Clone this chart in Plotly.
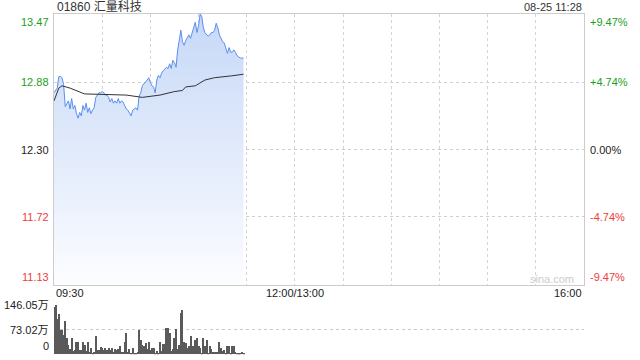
import plotly.graph_objects as go

# ---------------- data ----------------
stock_title = "01860 汇量科技"
timestamp = "08-25 11:28"
prev_close = 12.30
price_ticks = [13.47, 12.88, 12.30, 11.72, 11.13]
pct_ticks = ["+9.47%", "+4.74%", "0.00%", "-4.74%", "-9.47%"]
vol_ticks = [146.05, 73.02, 0]
vol_tick_text = ["146.05万", "73.02万", "0"]
x_labels = ["09:30", "12:00/13:00", "16:00"]
x_label_minutes = [0, 150, 330]
session_minutes = 330

prices = [12.79, 12.81, 12.83, 12.93, 12.93, 12.92, 12.86, 12.67, 12.70, 12.72,
          12.65, 12.74, 12.65, 12.68, 12.61, 12.57, 12.62, 12.59, 12.68, 12.64,
          12.70, 12.62, 12.66, 12.61, 12.64, 12.66, 12.75, 12.77, 12.79, 12.79,
          12.80, 12.79, 12.77, 12.77, 12.75, 12.71, 12.74, 12.70, 12.72, 12.70,
          12.74, 12.70, 12.72, 12.71, 12.68, 12.65, 12.64, 12.61, 12.59, 12.64,
          12.65, 12.66, 12.64, 12.76, 12.79, 12.85, 12.87, 12.88, 12.90, 12.92,
          12.88, 12.85, 12.84, 12.79, 12.90, 12.94, 12.92, 12.96, 12.98, 13.00,
          13.01, 13.00, 13.04, 13.00, 13.07, 13.05, 13.01, 13.16, 13.24, 13.33,
          13.23, 13.20, 13.24, 13.26, 13.29, 13.26, 13.31, 13.35, 13.40, 13.31,
          13.37, 13.47, 13.45, 13.35, 13.31, 13.29, 13.28, 13.29, 13.31, 13.31,
          13.33, 13.39, 13.35, 13.29, 13.26, 13.23, 13.22, 13.18, 13.13, 13.18,
          13.14, 13.14, 13.16, 13.14, 13.11, 13.10, 13.09, 13.09, 13.09]

avg_minutes = [0, 1, 3, 5, 10, 19, 35, 45, 55, 66, 75, 80, 82, 88, 94, 100, 110, 118]
avg_prices = [12.72, 12.76, 12.83, 12.85, 12.83, 12.78, 12.77, 12.77, 12.75, 12.77,
              12.80, 12.81, 12.84, 12.85, 12.90, 12.92, 12.935, 12.95]

volumes = [141, 146, 104, 119, 72, 72, 57, 99, 47, 28,
           15, 47, 11, 13, 36, 36, 13, 13, 36, 28,
           10, 35, 8, 18, 3, 8, 54, 13, 13, 21,
           18, 13, 18, 13, 20, 13, 18, 8, 16, 13,
           15, 24, 8, 8, 37, 62, 8, 16, 5, 18,
           3, 5, 8, 72, 41, 28, 24, 33, 15, 36,
           12, 20, 18, 5, 11, 3, 36, 11, 31, 31,
           77, 77, 62, 11, 16, 47, 76, 16, 28, 123,
           131, 36, 33, 18, 24, 54, 24, 24, 43, 48,
           24, 18, 5, 48, 26, 41, 5, 24, 15, 8,
           8, 8, 8, 36, 18, 11, 13, 5, 25, 25,
           5, 24, 24, 8, 3, 5, 3, 6, 3]

minutes = list(range(len(prices)))
vol_minutes = list(range(len(volumes)))

# ---------------- style ----------------
FONT = "Liberation Sans, Arial, Noto Sans CJK SC, sans-serif"
GREEN = "#1aa01a"
RED = "#f03c3c"
BLACK = "#222222"
label_colors = [GREEN, GREEN, BLACK, RED, RED]

W, H = 640, 360
left_px, right_px = 54, 584
p_top, p_bot = 14, 285
v_top, v_bot = 305, 354.3

def px_x(p):
    return p / W

def px_y(p):
    return 1 - p / H

fig = go.Figure()

fig.add_trace(go.Scatter(
    x=minutes, y=prices, mode="lines",
    line=dict(color="#5a8ef0", width=1),
    fill="tozeroy",
    fillgradient=dict(type="vertical", start=price_ticks[-1], stop=price_ticks[0],
                      colorscale=[[0, "rgba(252,253,255,1)"], [1, "rgba(198,216,247,1)"]]),
    xaxis="x", yaxis="y", hoverinfo="skip", showlegend=False))

fig.add_trace(go.Scatter(
    x=avg_minutes, y=avg_prices, mode="lines",
    line=dict(color="#333333", width=1),
    xaxis="x", yaxis="y", hoverinfo="skip", showlegend=False))

fig.add_trace(go.Bar(
    x=vol_minutes, y=volumes, marker=dict(color="#5a5a5a", line=dict(width=0)),
    width=0.62, xaxis="x2", yaxis="y2", hoverinfo="skip", showlegend=False))

grid_minutes = list(range(0, session_minutes + 1, 30))

fig.update_layout(
    width=W, height=H,
    margin=dict(l=0, r=0, t=0, b=0),
    paper_bgcolor="white", plot_bgcolor="rgba(0,0,0,0)",
    font=dict(family=FONT, size=11, color=BLACK),
    bargap=0,
    xaxis=dict(domain=[px_x(left_px), px_x(right_px)], range=[0, session_minutes],
               tickvals=grid_minutes, showticklabels=False, ticks="",
               showgrid=True, gridcolor="#d4d4d4", griddash="dot", gridwidth=1,
               showline=True, linecolor="#cccccc", mirror=True, zeroline=False,
               anchor="y"),
    yaxis=dict(domain=[px_y(p_bot), px_y(p_top)],
               range=[price_ticks[-1], price_ticks[0]],
               tickvals=price_ticks[1:-1], showticklabels=False, ticks="",
               showgrid=True, gridcolor="#cfcfcf", griddash="dot", gridwidth=1,
               showline=True, linecolor="#cccccc", mirror=True, zeroline=False,
               anchor="x"),
    xaxis2=dict(domain=[px_x(left_px), px_x(right_px)], range=[0, session_minutes],
                showticklabels=False, showgrid=False, showline=False, zeroline=False,
                ticks="", anchor="y2"),
    yaxis2=dict(domain=[px_y(v_bot), px_y(v_top)], range=[0, vol_ticks[0]],
                tickvals=vol_ticks[:2], showticklabels=False, ticks="",
                showgrid=True, gridcolor="#c8c8c8", griddash="dot", gridwidth=1,
                showline=False, zeroline=False, anchor="x2"),
)

ann = []
# title and timestamp
ann.append(dict(x=px_x(55), y=px_y(7), xref="paper", yref="paper", text=stock_title,
                showarrow=False, xanchor="left", yanchor="middle",
                font=dict(size=12, color="#333333")))
ann.append(dict(x=px_x(584), y=px_y(7), xref="paper", yref="paper", text=timestamp,
                showarrow=False, xanchor="right", yanchor="middle",
                font=dict(size=11, color="#333333")))

# price & percent labels
for i, (v, pct, col) in enumerate(zip(price_ticks, pct_ticks, label_colors)):
    if i == 0:
        ya = "top"
    elif i == len(price_ticks) - 1:
        ya = "bottom"
    else:
        ya = "middle"
    ann.append(dict(x=px_x(51), y=v, xref="paper", yref="y", text=f"{v:.2f}",
                    showarrow=False, xanchor="right", yanchor=ya,
                    font=dict(size=11, color=col)))
    ann.append(dict(x=px_x(588), y=v, xref="paper", yref="y", text=pct,
                    showarrow=False, xanchor="left", yanchor=ya,
                    font=dict(size=11, color=col)))

# x labels
anchors = ["left", "center", "right"]
for lab, m, xa in zip(x_labels, x_label_minutes, anchors):
    ann.append(dict(x=m, y=px_y(293), xref="x", yref="paper", text=lab,
                    showarrow=False, xanchor=xa, yanchor="middle",
                    font=dict(size=11, color=BLACK)))

# volume labels
for i, (v, t) in enumerate(zip(vol_ticks, vol_tick_text)):
    ya = "bottom" if i == len(vol_ticks) - 1 else "middle"
    ann.append(dict(x=px_x(51), y=v, xref="paper", yref="y2", text=t,
                    showarrow=False, xanchor="right", yanchor=ya,
                    font=dict(size=11, color=BLACK)))

# watermark
ann.append(dict(x=px_x(576), y=px_y(279), xref="paper", yref="paper", text="sina.com",
                showarrow=False, xanchor="right", yanchor="middle",
                font=dict(size=11, color="#cccccc")))

fig.update_layout(annotations=ann)
fig.write_html("out.html")
